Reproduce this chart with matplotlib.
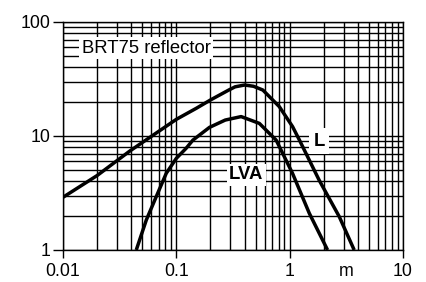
import matplotlib
matplotlib.use("Agg")
import matplotlib.pyplot as plt
import matplotlib.ticker as mticker
import matplotlib.transforms as mtransforms

plt.rcParams['font.family'] = ['Liberation Sans', 'DejaVu Sans']

# Data
L_x = [0.01, 0.02, 0.039, 0.1, 0.15, 0.2, 0.29, 0.33, 0.4, 0.48, 0.58, 0.81, 1.06, 1.22, 1.82, 2.74, 3.71]
L_y = [2.9, 4.5, 7.4, 14.0, 17.5, 20.7, 25.3, 27.0, 28.0, 27.3, 25.3, 18.1, 12.1, 9.2, 4.1, 1.96, 1.0]

LVA_x = [0.0443, 0.0543, 0.0665, 0.0815, 0.1, 0.122, 0.14, 0.196, 0.27, 0.373, 0.54, 0.76, 1.06, 1.49, 2.16]
LVA_y = [1.0, 1.83, 2.94, 4.71, 6.37, 7.8, 9.2, 11.9, 13.8, 14.8, 12.9, 9.2, 4.7, 2.1, 1.0]

x_ticks = [0.01, 0.1, 1, 10]
x_tick_labels = ['0.01', '0.1', '1', '10']
y_ticks = [1, 10, 100]
y_tick_labels = ['1', '10', '100']

title_text = 'BRT75 reflector'
unit_text = 'm'
curve_labels = ['L', 'LVA']

fig = plt.figure(figsize=(4.26, 2.82), dpi=100)
ax = fig.add_axes([63/426, 1-250/282, (403-63)/426, (250-22)/282])
ax.set_xscale('log')
ax.set_yscale('log')
ax.set_xlim(0.01, 10)
ax.set_ylim(1, 100)

ax.xaxis.set_major_locator(mticker.FixedLocator(x_ticks))
ax.xaxis.set_major_formatter(mticker.FixedFormatter(x_tick_labels))
ax.yaxis.set_major_locator(mticker.FixedLocator(y_ticks))
ax.yaxis.set_major_formatter(mticker.FixedFormatter(y_tick_labels))
ax.xaxis.set_minor_locator(mticker.LogLocator(base=10, subs=range(2, 10)))
ax.yaxis.set_minor_locator(mticker.LogLocator(base=10, subs=range(2, 10)))
ax.xaxis.set_minor_formatter(mticker.NullFormatter())
ax.yaxis.set_minor_formatter(mticker.NullFormatter())

ax.grid(True, which='both', color='black', linewidth=1.0)
ax.set_axisbelow(True)
for s in ax.spines.values():
    s.set_linewidth(1.0)
    s.set_color('black')

ax.tick_params(axis='x', which='major', length=6, width=1.0, pad=3, labelsize=12.8, colors='black')
ax.tick_params(axis='y', which='major', length=7, width=1.0, pad=2, labelsize=12.8, colors='black')
ax.tick_params(which='minor', length=0)

ax.plot(L_x, L_y, color='black', linewidth=2.5, solid_joinstyle='round', solid_capstyle='butt', zorder=3)
ax.plot(LVA_x, LVA_y, color='black', linewidth=2.5, solid_joinstyle='round', solid_capstyle='butt', zorder=3)

box = dict(boxstyle='square,pad=0.12', facecolor='white', edgecolor='none')
ax.text(0.0146, 59, title_text, fontsize=13.3, ha='left', va='center', bbox=box, zorder=4)
ax.text(1.82, 9.0, curve_labels[0], fontsize=13.3, fontweight='bold', ha='center', va='center',
        bbox=dict(boxstyle='square,pad=0.25', facecolor='white', edgecolor='none'), zorder=4)
ax.text(0.413, 4.55, curve_labels[1], fontsize=13.3, fontweight='bold', ha='center', va='center',
        bbox=dict(boxstyle='square,pad=0.12', facecolor='white', edgecolor='none'), zorder=4)

trans = mtransforms.blended_transform_factory(ax.transData, ax.transAxes)
ax.text(3.16, -(6 + 3) / 228 * 100 / 72 * 0 - 12.5 / 228, unit_text, fontsize=12.8, ha='center', va='top', transform=trans)

fig.savefig('out.png', dpi=100)
